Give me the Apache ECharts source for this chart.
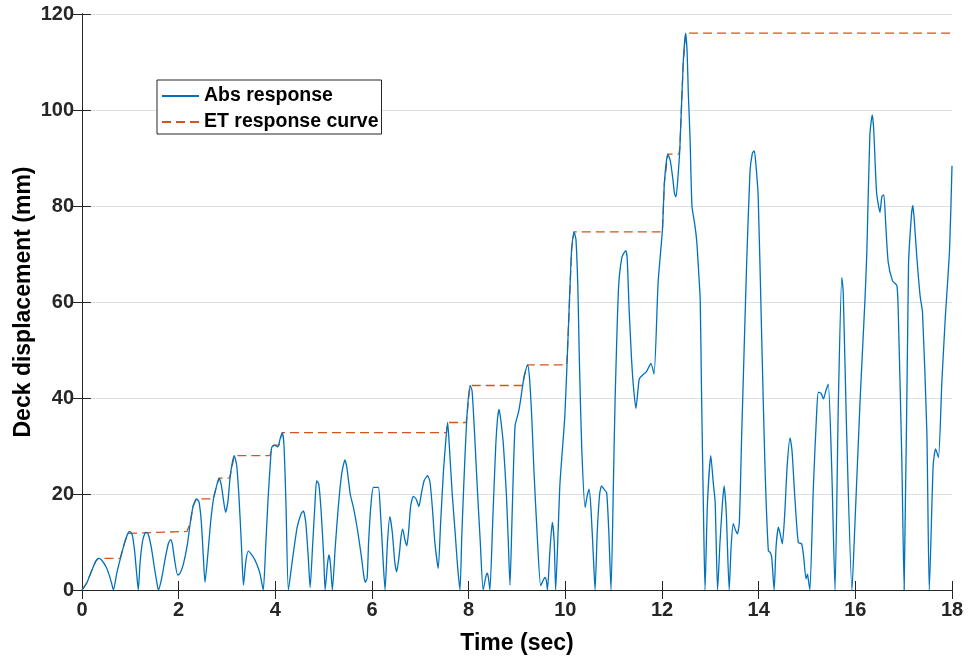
<!DOCTYPE html>
<html>
<head>
<meta charset="utf-8">
<script src="https://cdn.jsdelivr.net/npm/echarts@6/dist/echarts.min.js"></script>
<style>
html,body{margin:0;padding:0;background:#fff;}
#chart{width:968px;height:660px;}
</style>
</head>
<body>
<div id="chart"></div>
<script>
// Abs response: [time (sec), displacement (mm)]
var absResponse = [
[0,0],[0.1,1.5],[0.2,4.0],[0.28,5.9],[0.34,6.6],[0.4,6.3],[0.5,4.8],[0.56,3.2],[0.61,1.5],[0.65,0],
[0.72,3.5],[0.8,6.8],[0.88,9.8],[0.95,11.8],[0.99,12.2],[1.04,11.5],[1.09,8],[1.13,3.5],[1.165,0],
[1.2,5.5],[1.25,10],[1.3,11.8],[1.34,12.0],[1.38,11.3],[1.44,8.5],[1.5,4.5],[1.55,1.5],[1.58,0],
[1.65,2.5],[1.72,6.5],[1.79,9.8],[1.835,10.5],[1.87,9.5],[1.92,6],[1.98,3.1],[2.03,3.5],[2.1,5.5],
[2.18,9.5],[2.24,14],[2.3,17.5],[2.37,19.0],[2.42,18.4],[2.47,14],[2.51,7],[2.545,1.6],[2.6,7],
[2.66,14],[2.72,19],[2.78,21.5],[2.835,23.3],[2.88,22],[2.93,18.5],[2.97,16.2],[3.02,18.5],[3.07,24],
[3.15,28.0],[3.2,26],[3.25,19],[3.3,9],[3.34,1.0],[3.39,6],[3.44,8.1],[3.52,7.2],[3.6,5.8],[3.68,3.5],[3.75,0],
[3.8,9],[3.85,19],[3.9,27],[3.925,29.7],[3.98,30.2],[4.05,29.8],[4.1,31.5],[4.145,32.8],[4.18,30],[4.22,18],[4.27,0],
[4.35,6],[4.45,13],[4.53,15.8],[4.58,16.5],[4.63,14],[4.68,7],[4.72,0.5],[4.77,9],[4.82,18],[4.855,22.8],
[4.9,22],[4.95,16],[5.0,7],[5.03,0],[5.08,5.5],[5.11,7.3],[5.14,5.5],[5.18,0],
[5.24,9],[5.3,17],[5.37,24],[5.44,27.1],[5.48,25.5],[5.55,20],[5.62,17],[5.7,12.5],[5.78,7],[5.83,3],
[5.86,1.6],[5.9,2.5],[5.93,10],[5.98,18],[6.03,21.4],[6.13,21.4],[6.17,17],[6.22,8],[6.27,0],
[6.32,10],[6.37,15.3],[6.42,12],[6.47,6],[6.51,3.8],[6.56,7],[6.6,11],[6.635,12.7],[6.68,10.5],[6.72,9.2],
[6.76,12.5],[6.8,17.5],[6.855,19.5],[6.91,19],[6.97,17.4],[7.02,20],[7.08,22.8],[7.15,23.8],[7.2,22.5],
[7.25,17],[7.3,10],[7.37,4.5],[7.42,14],[7.48,25],[7.53,31.5],[7.565,34.9],[7.6,30],[7.66,20],[7.72,12],
[7.77,5],[7.82,0],
[7.86,12],[7.92,27],[7.97,37],[8.03,42.6],[8.07,41.5],[8.12,33],[8.18,21],[8.24,10],[8.30,0],[8.36,3],
[8.385,3.5],[8.41,2.5],[8.44,0],
[8.5,15],[8.56,30],[8.6,36],[8.63,37.6],[8.67,35],[8.72,30],[8.78,20],[8.82,10],[8.855,1],[8.9,16],
[8.96,34.2],[9.03,37],[9.07,39.3],[9.12,42.8],[9.16,45],[9.22,46.9],[9.26,44],[9.31,35],[9.35,25],[9.42,11],
[9.49,0.9],[9.55,2.2],[9.58,2.6],[9.61,1.8],[9.63,0],
[9.68,8],[9.73,14.1],[9.77,10],[9.8,0],[9.85,12],[9.89,22.4],[9.99,36.3],[10.06,53.7],[10.13,71],[10.18,74.6],
[10.22,73],[10.26,62.7],[10.29,48.1],[10.34,29.4],[10.41,17.2],[10.45,19.5],[10.49,21.0],[10.53,17],[10.58,7],[10.615,0],
[10.66,12],[10.71,20],[10.75,21.7],[10.8,21],[10.855,20.3],[10.9,12],[10.945,0],
[11.0,25],[11.03,39.8],[11.1,62.7],[11.17,69.3],[11.25,70.7],[11.28,69],[11.32,58.5],[11.37,48.1],[11.41,42.3],
[11.46,37.8],[11.53,44],[11.6,44.8],[11.68,45.5],[11.77,47.2],[11.835,45],[11.92,64.1],[12.01,75.2],[12.05,84.9],
[12.12,90.8],[12.17,89.5],[12.22,86],[12.26,82.5],[12.29,81.9],[12.33,86],[12.37,92.2],[12.44,110],[12.49,116.0],
[12.52,112],[12.545,103.3],[12.58,94.3],[12.62,80],[12.68,76],[12.72,72.5],[12.76,66],[12.79,60.6],[12.82,39.8],
[12.86,15],[12.89,0],
[12.94,18],[13.01,28],[13.06,22.4],[13.1,18.3],[13.15,0],[13.2,10],[13.25,18],[13.285,21.7],[13.33,16],[13.39,0],
[13.43,9],[13.475,13.8],[13.52,12.5],[13.56,11.7],[13.6,14],[13.65,32.8],[13.68,43.3],[13.75,67.6],[13.82,87],
[13.87,91],[13.91,91.5],[13.94,89],[13.99,82],[14.06,53.7],[14.13,25.9],[14.2,8.2],[14.24,7.8],[14.27,6.8],[14.32,0],
[14.36,9],[14.41,13.1],[14.45,11.5],[14.49,9.6],[14.54,16],[14.59,25.9],[14.65,31.7],[14.69,29],[14.75,19],
[14.82,9.9],[14.89,9.6],[14.93,7],[14.98,2.3],[15.01,3.3],[15.03,2],[15.06,0],
[15.13,21],[15.2,37],[15.235,41.2],[15.29,41],[15.34,39.8],[15.39,41.5],[15.44,42.9],[15.51,25.9],[15.58,0],
[15.65,39.8],[15.72,65.1],[15.75,62],[15.82,32.8],[15.93,0],
[15.99,13.4],[16.1,39.8],[16.2,60.6],[16.24,71],[16.3,94.7],[16.35,99.0],[16.38,96],[16.44,82.8],[16.51,78.7],
[16.55,82],[16.59,82.3],[16.63,76],[16.68,68.3],[16.77,64.4],[16.86,63.4],[16.89,57.1],[16.96,28],[17.01,0],
[17.1,67.6],[17.16,78],[17.19,80.1],[17.22,77],[17.27,69.7],[17.34,61.3],[17.39,57.8],[17.48,32.8],[17.53,0],
[17.61,25.9],[17.66,29.4],[17.72,27.6],[17.79,43.3],[17.86,56.5],[17.95,71],[18.0,88.4]
];

// ET response curve (running peak envelope)
var etResponse = [
[0,0],[0.1,1.5],[0.2,4.0],[0.28,5.9],[0.34,6.6],[0.79,6.6],[0.88,9.8],[0.95,11.8],[0.99,12.2],
[2.17,12.2],[2.24,14],[2.3,17.5],[2.37,19.0],[2.72,19.0],[2.78,21.5],[2.835,23.3],[3.05,23.3],[3.07,24],
[3.15,28.0],[3.89,28.0],[3.925,29.7],[3.98,30.2],[4.08,30.2],[4.1,31.5],[4.145,32.8],[7.54,32.8],
[7.565,34.9],[7.95,34.9],[7.97,37],[8.03,42.6],[9.11,42.6],[9.12,42.8],[9.16,45],[9.22,46.9],
[10.03,46.9],[10.06,53.7],[10.13,71],[10.18,74.6],[12.0,74.6],[12.01,75.2],[12.05,84.9],[12.12,90.8],
[12.35,90.8],[12.37,92.2],[12.44,110],[12.49,116.0],[18,116.0]
];

var xTicks = {min: 0, max: 18, interval: 2};
var yTicks = {min: 0, max: 120, interval: 20};
var seriesNames = ['Abs response', 'ET response curve'];

var FONT = '"Liberation Sans", Arial, Helvetica, sans-serif';
var AXC = '#262626';

var chart = echarts.init(document.getElementById('chart'), null, {renderer: 'canvas'});

var hiddenAxisBase = {
  type: 'value',
  axisLine: {show: true, lineStyle: {color: AXC, width: 1}},
  axisTick: {show: true, inside: true, length: 9, lineStyle: {color: AXC, width: 1}},
  axisLabel: {show: false},
  splitLine: {show: false}
};

var option = {
  animation: false,
  backgroundColor: '#ffffff',
  grid: {left: 82, right: 16, top: 14, bottom: 69, containLabel: false},
  legend: {
    show: true,
    orient: 'vertical',
    left: 157,
    top: 80,
    padding: [5, 3, 1, 4],
    itemGap: 4,
    itemWidth: 37,
    itemHeight: 14,
    borderColor: AXC,
    borderWidth: 1,
    borderRadius: 0,
    backgroundColor: '#ffffff',
    itemStyle: {opacity: 0, borderWidth: 0},
    data: seriesNames,
    textStyle: {fontFamily: FONT, fontWeight: 'bold', fontSize: 19.5, color: '#000', lineHeight: 22}
  },
  xAxis: [
    {
      type: 'value', position: 'bottom',
      min: xTicks.min, max: xTicks.max, interval: xTicks.interval,
      name: 'Time (sec)', nameLocation: 'middle', nameGap: 42,
      nameTextStyle: {fontFamily: FONT, fontWeight: 'bold', fontSize: 23, color: '#000'},
      axisLine: {show: true, onZero: false, lineStyle: {color: AXC, width: 1}},
      axisTick: {show: true, inside: true, length: 9, lineStyle: {color: AXC, width: 1}},
      axisLabel: {show: true, margin: 10, fontFamily: FONT, fontWeight: 'bold', fontSize: 20, color: AXC},
      splitLine: {show: false}
    },
    Object.assign({}, hiddenAxisBase, {position: 'top', min: xTicks.min, max: xTicks.max, interval: xTicks.interval})
  ],
  yAxis: [
    {
      type: 'value', position: 'left',
      min: yTicks.min, max: yTicks.max, interval: yTicks.interval,
      name: 'Deck displacement (mm)', nameLocation: 'middle', nameGap: 47,
      nameMoveOverlap: false,
      nameTextStyle: {fontFamily: FONT, fontWeight: 'bold', fontSize: 23, color: '#000'},
      axisLine: {show: true, onZero: false, lineStyle: {color: AXC, width: 1}},
      axisTick: {show: true, inside: true, length: 9, lineStyle: {color: AXC, width: 1}},
      axisLabel: {show: true, margin: 8, fontFamily: FONT, fontWeight: 'bold', fontSize: 20, color: AXC},
      splitLine: {show: true, lineStyle: {color: '#dfdfdf', width: 1}}
    },
    Object.assign({}, hiddenAxisBase, {position: 'right', min: yTicks.min, max: yTicks.max, interval: yTicks.interval})
  ],
  series: [
    {
      name: seriesNames[0],
      type: 'line',
      xAxisIndex: 0, yAxisIndex: 0,
      data: absResponse,
      symbol: 'none',
      showSymbol: false,
      smooth: 0.2,
      clip: true,
      lineStyle: {color: '#0072BD', width: 1.3},
      itemStyle: {color: '#0072BD'},
      z: 3
    },
    {
      name: seriesNames[1],
      type: 'line',
      xAxisIndex: 0, yAxisIndex: 0,
      data: etResponse,
      symbol: 'none',
      showSymbol: false,
      smooth: false,
      clip: true,
      lineStyle: {color: '#D95319', width: 1.3, type: [9, 5]},
      itemStyle: {color: '#D95319'},
      z: 2
    }
  ]
};
chart.setOption(option);
</script>
</body>
</html>
